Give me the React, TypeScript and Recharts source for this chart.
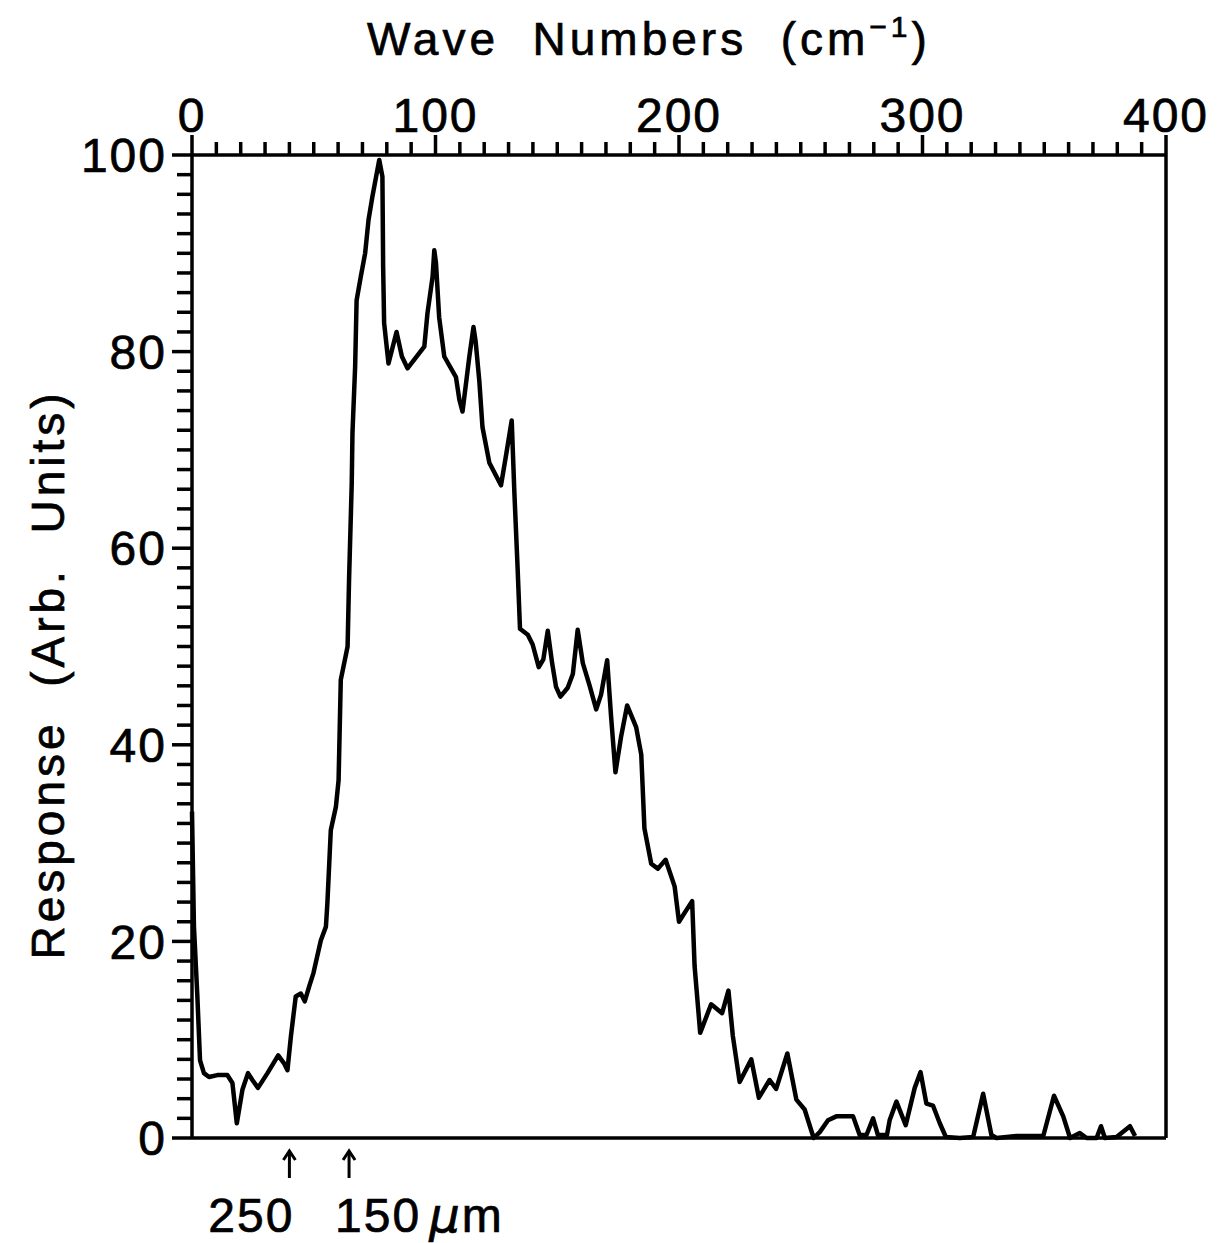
import React from 'react';
import { LineChart, Line, XAxis, YAxis, ReferenceLine } from 'recharts';

const wavenumbers = [
  0, 0.8, 2.2, 3.3, 4.9, 7.0, 10.4, 14.5, 16.6, 18.4,
  20.7, 23.0, 24.8, 27.1, 31.0, 35.4, 37.8, 39.2, 40.6, 42.6,
  44.7, 46.3, 48.1, 49.9, 52.9, 55.0, 55.6, 57.0, 59.1, 60.2,
  61.1, 63.9, 64.5, 65.6, 65.9, 67.0, 67.6, 69.3, 71.1, 72.5,
  74.1, 76.9, 78.2, 78.5, 78.9, 80.7, 84.0, 86.2, 88.5, 95.4,
  96.7, 98.8, 99.5, 100.2, 101.5, 103.6, 108.4, 109.8, 111.1, 113.9,
  115.6, 116.5, 118.0, 119.3, 122.1, 126.9, 129.0, 131.3, 132.4, 133.7,
  134.7, 137.9, 139.9, 142.4, 144.3, 146.1, 147.9, 149.5, 151.3, 154.3,
  156.4, 158.4, 160.5, 163.2, 166.0, 168.0, 170.5, 172.1, 173.9, 176.2,
  178.7, 182.4, 184.5, 185.8, 188.6, 191.3, 194.5, 198.2, 200.0, 202.3,
  205.4, 206.4, 208.7, 213.2, 217.7, 220.3, 222.1, 224.9, 229.7, 232.8,
  237.2, 239.9, 244.5, 248.2, 251.6, 255.3, 257.8, 261.2, 264.6, 271.5,
  274.2, 277.0, 279.7, 281.7, 285.4, 286.5, 289.3, 293.1, 296.8, 299.2,
  301.6, 304.3, 307.1, 309.6, 315.3, 320.8, 324.9, 328.3, 330.4, 338.6,
  349.6, 354.0, 357.8, 360.6, 364.6, 367.4, 371.5, 373.3, 374.9, 379.7,
  385.2, 387.3,
];

const response = [
  33.2, 21.5, 14.4, 7.9, 6.6, 6.2, 6.4, 6.4, 5.6, 1.5,
  4.9, 6.6, 5.9, 5.1, 6.6, 8.4, 7.6, 6.9, 10.3, 14.4,
  14.7, 13.9, 15.4, 16.8, 20.1, 21.5, 23.9, 31.3, 33.7, 36.4,
  46.6, 50.0, 56.8, 66.6, 71.7, 78.5, 85.2, 87.6, 90.0, 93.4,
  95.8, 99.5, 97.8, 88.6, 82.9, 78.8, 82.0, 79.5, 78.3, 80.5,
  83.9, 87.6, 90.3, 89.0, 83.5, 79.5, 77.4, 75.1, 73.9, 79.5,
  82.5, 81.0, 77.0, 72.3, 68.7, 66.4, 69.5, 73.0, 65.6, 58.1,
  51.8, 51.2, 50.2, 47.9, 48.7, 51.6, 48.3, 45.9, 44.9, 45.8,
  47.2, 51.7, 48.3, 46.1, 43.6, 45.1, 48.6, 42.9, 37.2, 40.8,
  44.0, 41.8, 39.0, 31.5, 27.9, 27.4, 28.3, 25.6, 22.0, 22.9,
  24.1, 17.5, 10.7, 13.6, 12.7, 15.0, 10.4, 5.7, 8.0, 4.1,
  5.9, 5.0, 8.6, 3.9, 2.9, 0, 0.6, 1.8, 2.2, 2.2,
  0.3, 0.3, 2.0, 0.3, 0.3, 1.8, 3.7, 1.3, 5.1, 6.7,
  3.5, 3.3, 1.5, 0.1, 0, 0.1, 4.5, 0.3, 0, 0.2,
  0.2, 4.3, 2.2, 0, 0.5, 0, 0, 1.2, 0, 0.1,
  1.2, 0.2,
];

// Axis ticks
const xTicks = Array.from({ length: 41 }, (_, i) => i * 10);
const xLabelTicks = [0, 100, 200, 300, 400];
const yTicks = Array.from({ length: 51 }, (_, i) => i * 2);
const yLabelTicks = [0, 20, 40, 60, 80, 100];

// Wavelength annotations (position in cm^-1, label)
const markerPositions = [40, 64.5];
const markerLabels = ['250', '150'];

const data = wavenumbers.map((x, i) => ({ x, y: response[i] }));

const FONT = '"Liberation Sans", Arial, Helvetica, sans-serif';
const INK = '#000';
const TEXT_STROKE = 0.7;

const TopTick = (props: any) => {
  const { x, y, payload } = props;
  const major = xLabelTicks.includes(payload.value);
  const len = major ? 20 : 13;
  return (
    <g>
      <line x1={x} y1={y} x2={x} y2={y - len} stroke={INK} strokeWidth={3.5} />
      {major && (
        <text
          x={x}
          y={y - 23}
          textAnchor="middle"
          fontFamily={FONT}
          fontSize={48}
          letterSpacing={2}
          fill={INK}
          stroke={INK}
          strokeWidth={TEXT_STROKE}
        >
          {payload.value}
        </text>
      )}
    </g>
  );
};

const LeftTick = (props: any) => {
  const { x, y, payload } = props;
  const major = yLabelTicks.includes(payload.value);
  const len = major ? 20 : 15;
  return (
    <g>
      <line x1={x} y1={y} x2={x - len} y2={y} stroke={INK} strokeWidth={3.5} />
      {major && (
        <text
          x={x - 25}
          y={y}
          dy="0.36em"
          textAnchor="end"
          fontFamily={FONT}
          fontSize={48}
          letterSpacing={2}
          fill={INK}
          stroke={INK}
          strokeWidth={TEXT_STROKE}
        >
          {payload.value}
        </text>
      )}
    </g>
  );
};

const TitleLabel = (props: any) => {
  const vb = props.viewBox || {};
  const cx = vb.x + vb.width / 2 - 30;
  return (
    <text
      x={cx}
      y={vb.y - 99}
      textAnchor="middle"
      fontFamily={FONT}
      fontSize={46}
      letterSpacing={4}
      fill={INK}
      stroke={INK}
      strokeWidth={TEXT_STROKE}
      style={{ whiteSpace: 'pre' }}
    >
      {'Wave  Numbers  (cm'}
      <tspan fontSize={30} dy={-18}>{'\u22121'}</tspan>
      <tspan dy={18}>{')'}</tspan>
    </text>
  );
};

const YTitle = (props: any) => {
  const vb = props.viewBox || {};
  const cx = 40;
  const cy = vb.y + vb.height / 2 + 28;
  return (
    <text
      x={cx}
      y={cy}
      transform={`rotate(-90 ${cx} ${cy})`}
      textAnchor="middle"
      dominantBaseline="central"
      fontFamily={FONT}
      fontSize={46}
      letterSpacing={4}
      fill={INK}
      stroke={INK}
      strokeWidth={TEXT_STROKE}
      style={{ whiteSpace: 'pre' }}
    >
      {'Response  (Arb.  Units)'}
    </text>
  );
};

const makeMarker = (idx: number) => (props: any) => {
  const vb = props.viewBox || {};
  const x = vb.x;
  const base = vb.y + vb.height;
  const label = markerLabels[idx];
  return (
    <g>
      <line x1={x} y1={base + 13} x2={x} y2={base + 40} stroke={INK} strokeWidth={3} />
      <path
        d={`M ${x - 6} ${base + 22} L ${x} ${base + 13} L ${x + 6} ${base + 22}`}
        fill="none"
        stroke={INK}
        strokeWidth={3}
      />
      {idx === 0 ? (
        <text
          x={x + 5}
          y={base + 94}
          textAnchor="end"
          fontFamily={FONT}
          fontSize={48}
          letterSpacing={2}
          fill={INK}
          stroke={INK}
          strokeWidth={TEXT_STROKE}
        >
          {label}
        </text>
      ) : (
        <text
          x={x - 14}
          y={base + 94}
          textAnchor="start"
          fontFamily={FONT}
          fontSize={48}
          letterSpacing={2}
          fill={INK}
          stroke={INK}
          strokeWidth={TEXT_STROKE}
        >
          {label}
          <tspan dx={8} fontStyle="italic" fontFamily={'"DejaVu Sans", sans-serif'}>{'\u03bc'}</tspan>
          <tspan>{'m'}</tspan>
        </text>
      )}
    </g>
  );
};

export default function App() {
  return (
    <div style={{ width: 1210, height: 1235, background: '#fff' }}>
      <LineChart
        width={1210}
        height={1235}
        data={data}
        margin={{ top: 146, left: 183, right: 51, bottom: 104 }}
      >
        <XAxis
          xAxisId="top"
          orientation="top"
          type="number"
          dataKey="x"
          domain={[0, 400]}
          ticks={xTicks}
          interval={0}
          height={1}
          tickSize={0}
          tickMargin={0}
          tick={<TopTick />}
          axisLine={{ stroke: INK, strokeWidth: 3.5 }}
          tickLine={false}
          label={<TitleLabel />}
        />
        <XAxis
          xAxisId="bottom"
          orientation="bottom"
          type="number"
          dataKey="x"
          domain={[0, 400]}
          height={1}
          tick={false}
          tickLine={false}
          axisLine={{ stroke: INK, strokeWidth: 3.5 }}
        />
        <YAxis
          yAxisId="left"
          orientation="left"
          type="number"
          domain={[0, 100]}
          ticks={yTicks}
          interval={0}
          width={1}
          tickSize={0}
          tickMargin={0}
          tick={<LeftTick />}
          tickLine={false}
          axisLine={{ stroke: INK, strokeWidth: 3.5 }}
          label={<YTitle />}
        />
        <YAxis
          yAxisId="right"
          orientation="right"
          type="number"
          domain={[0, 100]}
          width={1}
          tick={false}
          tickLine={false}
          axisLine={{ stroke: INK, strokeWidth: 3.5 }}
        />
        {markerPositions.map((m, i) => (
          <ReferenceLine
            key={m}
            x={m}
            xAxisId="top"
            yAxisId="left"
            stroke="none"
            label={makeMarker(i)}
          />
        ))}
        <Line
          xAxisId="top"
          yAxisId="left"
          type="linear"
          dataKey="y"
          stroke={INK}
          strokeWidth={4.5}
          strokeLinejoin="round"
          dot={false}
          activeDot={false}
          isAnimationActive={false}
        />
      </LineChart>
    </div>
  );
}
